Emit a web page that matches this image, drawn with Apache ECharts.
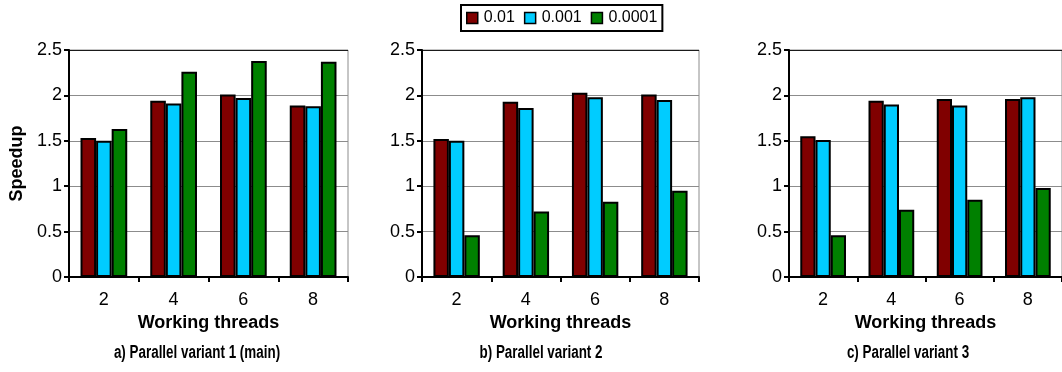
<!DOCTYPE html>
<html>
<head>
<meta charset="utf-8">
<script src="https://cdn.jsdelivr.net/npm/echarts@6/dist/echarts.min.js"></script>
<style>
  html, body { margin: 0; padding: 0; background: #fff; }
  #chart { width: 1062px; height: 372px; }
</style>
</head>
<body>
<div id="chart"></div>
<script>
// Working-thread counts on the category axis
const threads = ['2', '4', '6', '8'];
// Series names (tolerance values)
const seriesNames = ['0.01', '0.001', '0.0001'];
// Y axis ticks
const yMin = 0, yMax = 2.5, yStep = 0.5;

// Speedup, variant 1 (main)
const v1_tol01 = [1.53, 1.94, 2.01, 1.89];
const v1_tol001 = [1.50, 1.91, 1.97, 1.88];
const v1_tol0001 = [1.63, 2.26, 2.38, 2.37];
// Speedup, variant 2
const v2_tol01 = [1.52, 1.93, 2.03, 2.01];
const v2_tol001 = [1.50, 1.86, 1.98, 1.95];
const v2_tol0001 = [0.46, 0.72, 0.83, 0.95];
// Speedup, variant 3
const v3_tol01 = [1.55, 1.94, 1.96, 1.96];
const v3_tol001 = [1.51, 1.90, 1.89, 1.98];
const v3_tol0001 = [0.46, 0.74, 0.85, 0.98];

const captions = ['a) Parallel variant 1 (main)', 'b) Parallel variant 2', 'c) Parallel variant 3'];
const xAxisTitle = 'Working threads';
const yAxisTitle = 'Speedup';

const panels = [
  [v1_tol01, v1_tol001, v1_tol0001],
  [v2_tol01, v2_tol001, v2_tol0001],
  [v3_tol01, v3_tol001, v3_tol0001]
];

const FONT = '"Liberation Sans", Arial, Helvetica, sans-serif';
const colors = ['#800000', '#00CCFF', '#008000'];

const grids = [
  { left: 69, top: 50, width: 279, height: 227 },
  { left: 422, top: 50, width: 277, height: 227 },
  { left: 789, top: 50, width: 280, height: 227 }
];
const captionX = [197, 541, 908];

const option = {
  backgroundColor: '#fff',
  animation: false,
  color: colors,
  legend: {
    data: seriesNames,
    left: 461,
    top: 5,
    orient: 'horizontal',
    icon: 'rect',
    itemWidth: 11,
    itemHeight: 11,
    itemGap: 9,
    padding: [5, 5, 5, 5],
    borderColor: '#000',
    borderWidth: 2,
    backgroundColor: '#fff',
    itemStyle: { borderColor: '#000', borderWidth: 1.5 },
    textStyle: { fontFamily: FONT, fontSize: 16, color: '#000', padding: [0, 0, 0, 1] }
  },
  grid: grids.map(g => Object.assign({
    show: true, borderColor: '#8c8c8c', borderWidth: 1, backgroundColor: '#fff'
  }, g)),
  xAxis: grids.map((g, i) => ({
    type: 'category',
    gridIndex: i,
    data: threads,
    name: xAxisTitle,
    nameLocation: 'middle',
    nameGap: 31,
    nameTextStyle: { fontFamily: FONT, fontSize: 18, fontWeight: 'bold', color: '#000' },
    axisLine: { lineStyle: { color: '#000', width: 2 } },
    axisTick: { show: true, length: 5, lineStyle: { color: '#000', width: 2 } },
    axisLabel: { fontFamily: FONT, fontSize: 18, color: '#000', margin: 14 },
    splitLine: { show: false }
  })),
  yAxis: grids.map((g, i) => ({
    type: 'value',
    gridIndex: i,
    min: yMin,
    max: yMax,
    interval: yStep,
    name: i === 0 ? yAxisTitle : '',
    nameLocation: 'middle',
    nameGap: 43,
    nameTextStyle: { fontFamily: FONT, fontSize: 18, fontWeight: 'bold', color: '#000' },
    axisLine: { show: true, lineStyle: { color: '#000', width: 2 } },
    axisTick: { show: true, length: 5, lineStyle: { color: '#000', width: 2 } },
    axisLabel: { fontFamily: FONT, fontSize: 18, color: '#000', margin: 7 },
    splitLine: {
      show: true,
      lineStyle: { color: ['#8c8c8c', '#8c8c8c', '#8c8c8c', '#8c8c8c', '#8c8c8c', '#1a1a1a'], width: 1 }
    }
  })),
  series: [],
  // Panel captions, set in a condensed bold face
  graphic: captions.map((t, i) => ({
    type: 'text',
    x: captionX[i],
    y: 353,
    scaleX: 0.745,
    style: {
      text: t,
      fontFamily: FONT,
      fontSize: 18,
      fontWeight: 'bold',
      fill: '#000',
      textAlign: 'center',
      textVerticalAlign: 'middle'
    }
  }))
};

panels.forEach((panel, p) => {
  panel.forEach((values, s) => {
    option.series.push({
      type: 'bar',
      name: seriesNames[s],
      xAxisIndex: p,
      yAxisIndex: p,
      data: values,
      barGap: '0%',
      barCategoryGap: '33%',
      itemStyle: { color: colors[s], borderColor: '#000', borderWidth: 2 }
    });
  });
});

const chart = echarts.init(document.getElementById('chart'), null, { renderer: 'canvas' });
chart.setOption(option);
</script>
</body>
</html>
